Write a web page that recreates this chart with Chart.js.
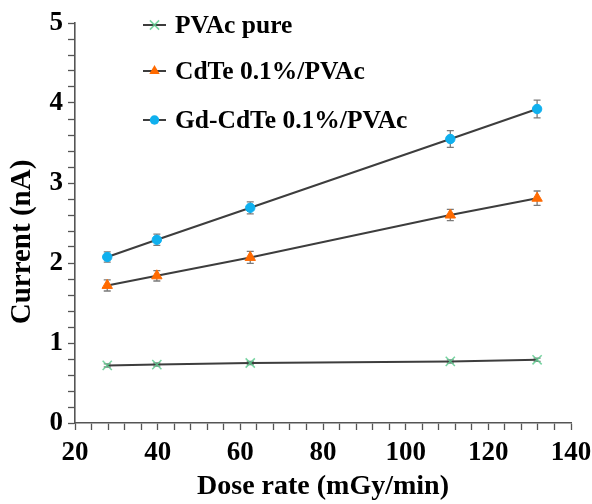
<!DOCTYPE html>
<html>
<head>
<meta charset="utf-8">
<script src="https://cdn.jsdelivr.net/npm/chart.js@4.4.1/dist/chart.umd.min.js"></script>
<style>
html, body { margin: 0; padding: 0; background: #fff; }
</style>
</head>
<body>
<canvas id="myChart" width="592" height="504"></canvas>
<script>
// values
const doseRate = [27.8, 39.8, 62.4, 110.8, 131.8];
const pvacPure = [0.72, 0.73, 0.75, 0.77, 0.79];
const pvacErr = [0.02, 0.02, 0.02, 0.02, 0.02];
const cdte = [1.72, 1.84, 2.07, 2.60, 2.81];
const cdteErr = [0.07, 0.065, 0.075, 0.07, 0.09];
const gdCdte = [2.075, 2.29, 2.69, 3.55, 3.925];
const gdErr = [0.065, 0.07, 0.075, 0.105, 0.11];
const seriesNames = ['PVAc pure', 'CdTe 0.1%/PVAc', 'Gd-CdTe 0.1%/PVAc'];
const xTitle = 'Dose rate (mGy/min)';
const yTitle = 'Current (nA)';

const FONT = "'Liberation Serif', 'Times New Roman', serif";
const AXIS = '#555555';

function toPoints(ys) {
    return doseRate.map((x, i) => ({ x: x, y: ys[i] }));
}

const errors = [pvacErr, cdteErr, gdErr];

function dataset(label, ys, style, color, radius, border) {
    return {
        label: label,
        data: toPoints(ys),
        borderColor: '#3d3d3d',
        borderWidth: 2,
        pointStyle: style,
        pointRadius: radius,
        pointHoverRadius: radius,
        pointBackgroundColor: color,
        pointBorderColor: color,
        pointBorderWidth: border,
        showLine: true,
        tension: 0
    };
}

// error bars, drawn under the markers
const errorBars = {
    id: 'errorBars',
    beforeDatasetsDraw(chart) {
        const ctx = chart.ctx;
        const xs = chart.scales.x, ys = chart.scales.y;
        ctx.save();
        ctx.strokeStyle = '#7a7a7a';
        ctx.lineWidth = 1.3;
        chart.data.datasets.forEach((ds, i) => {
            ds.data.forEach((p, j) => {
                const e = errors[i][j];
                const px = xs.getPixelForValue(p.x);
                const top = ys.getPixelForValue(p.y + e);
                const bot = ys.getPixelForValue(p.y - e);
                ctx.beginPath();
                ctx.moveTo(px, top); ctx.lineTo(px, bot);
                ctx.moveTo(px - 3.5, top); ctx.lineTo(px + 3.5, top);
                ctx.moveTo(px - 3.5, bot); ctx.lineTo(px + 3.5, bot);
                ctx.stroke();
            });
        });
        ctx.restore();
    }
};

function drawMarker(ctx, style, x, y, r, color, bw) {
    ctx.save();
    ctx.fillStyle = color;
    ctx.strokeStyle = color;
    ctx.lineWidth = bw;
    ctx.beginPath();
    if (style === 'crossRot') {
        const d = r * Math.SQRT1_2;
        ctx.moveTo(x - d, y - d); ctx.lineTo(x + d, y + d);
        ctx.moveTo(x - d, y + d); ctx.lineTo(x + d, y - d);
        ctx.stroke();
    } else if (style === 'triangle') {
        ctx.moveTo(x, y - r);
        ctx.lineTo(x - r * Math.sqrt(3) / 2, y + r / 2);
        ctx.lineTo(x + r * Math.sqrt(3) / 2, y + r / 2);
        ctx.closePath();
        ctx.fill();
    } else {
        ctx.arc(x, y, r, 0, Math.PI * 2);
        ctx.fill();
    }
    ctx.restore();
}

// legend inside the plot, line sample + marker + bold text
const plotLegend = {
    id: 'plotLegend',
    afterDraw(chart) {
        const ctx = chart.ctx;
        const rows = [25, 71, 120];
        ctx.save();
        ctx.font = 'bold 25.5px ' + FONT;
        ctx.textBaseline = 'middle';
        chart.data.datasets.forEach((ds, i) => {
            const y = rows[i];
            ctx.strokeStyle = ds.borderColor;
            ctx.lineWidth = 2;
            ctx.beginPath();
            ctx.moveTo(143, y); ctx.lineTo(166, y);
            ctx.stroke();
            drawMarker(ctx, ds.pointStyle, 154.5, y, ds.pointRadius, ds.pointBackgroundColor, ds.pointBorderWidth);
            ctx.fillStyle = '#000';
            ctx.fillText(ds.label, 175, y + 1);
        });
        ctx.restore();
    }
};

// y title sits a little below the middle of the axis in the original
const yAxisTitle = {
    id: 'yAxisTitle',
    afterDraw(chart) {
        const ctx = chart.ctx;
        ctx.save();
        ctx.translate(23, 242);
        ctx.rotate(-Math.PI / 2);
        ctx.font = 'bold 29px ' + FONT;
        ctx.fillStyle = '#000';
        ctx.textAlign = 'center';
        ctx.textBaseline = 'middle';
        ctx.fillText(yTitle, 0, 0);
        ctx.restore();
    }
};

function isWhole(v, step) {
    const q = v / step;
    return Math.abs(q - Math.round(q)) < 1e-6;
}

new Chart('myChart', {
    type: 'scatter',
    data: {
        datasets: [
            dataset(seriesNames[0], pvacPure, 'crossRot', 'rgba(95,205,145,0.85)', 6.5, 1.5),
            dataset(seriesNames[1], cdte, 'triangle', '#ff6a00', 6, 1),
            dataset(seriesNames[2], gdCdte, 'circle', '#10b0ee', 4.7, 1)
        ]
    },
    options: {
        responsive: false,
        animation: false,
        devicePixelRatio: 1,
        layout: { padding: { top: 23, right: 21, left: 0, bottom: 0 } },
        plugins: {
            legend: { display: false },
            tooltip: { enabled: false }
        },
        scales: {
            x: {
                type: 'linear',
                min: 20,
                max: 140,
                afterFit(scale) {
                    scale.height = 81;
                    scale.paddingLeft = 0;
                    scale.paddingRight = 0;
                },
                border: { display: true, color: AXIS, width: 1.6 },
                grid: { display: true, drawOnChartArea: false, drawTicks: true, tickLength: 7, tickColor: AXIS, tickWidth: 1.3 },
                ticks: {
                    stepSize: 4,
                    autoSkip: false,
                    maxRotation: 0,
                    padding: 7,
                    color: '#000',
                    font: { family: FONT, size: 27, weight: 'bold' },
                    callback: v => isWhole(v, 20) ? Math.round(v) : ''
                },
                title: {
                    display: true,
                    text: xTitle,
                    color: '#000',
                    font: { family: FONT, size: 28, weight: 'bold' },
                    padding: { top: 0, bottom: 0 }
                }
            },
            y: {
                type: 'linear',
                min: 0,
                max: 5,
                afterFit(scale) {
                    scale.width = 75;
                    scale.paddingTop = 0;
                    scale.paddingBottom = 0;
                },
                border: { display: true, color: AXIS, width: 1.6 },
                grid: { display: true, drawOnChartArea: false, drawTicks: true, tickLength: 7, tickColor: AXIS, tickWidth: 1.3 },
                ticks: {
                    stepSize: 0.2,
                    autoSkip: false,
                    padding: 5,
                    color: '#000',
                    font: { family: FONT, size: 27, weight: 'bold' },
                    callback: v => isWhole(v, 1) ? Math.round(v) : ''
                },
                title: { display: false }
            }
        }
    },
    plugins: [errorBars, plotLegend, yAxisTitle]
});
</script>
</body>
</html>
